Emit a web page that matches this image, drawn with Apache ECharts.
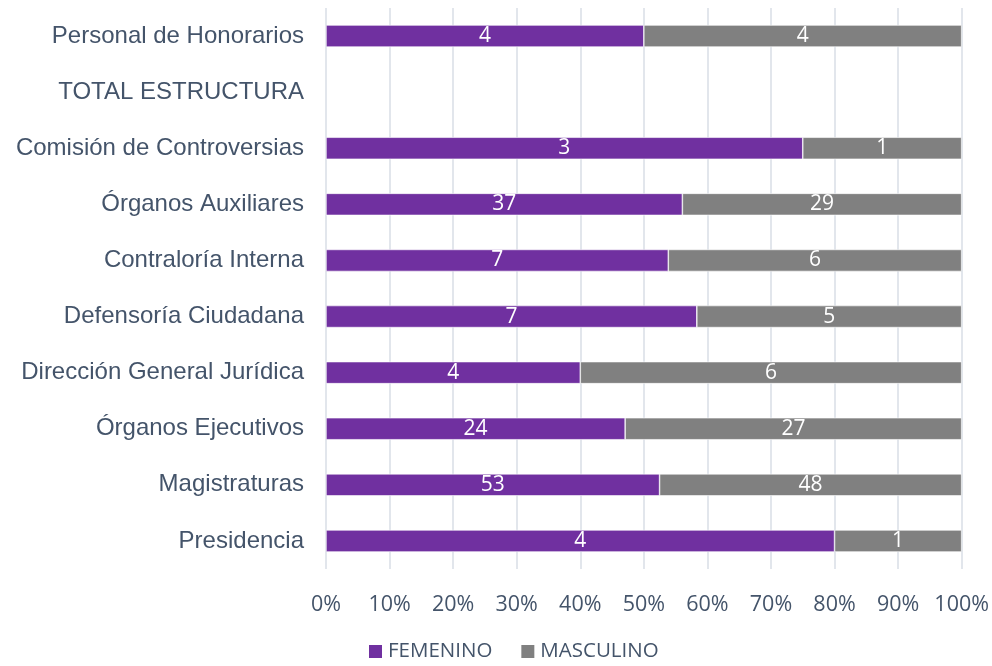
<!DOCTYPE html>
<html>
<head>
<meta charset="utf-8">
<script src="https://cdn.jsdelivr.net/npm/echarts@6/dist/echarts.min.js"></script>
<style>
html, body { margin: 0; padding: 0; background: #fff; }
#chart { width: 992px; height: 666px; }
</style>
</head>
<body>
<div id="chart"></div>
<script>
// categorias de abajo hacia arriba
var categories = ['Presidencia', 'Magistraturas', 'Órganos Ejecutivos', 'Dirección General Jurídica',
    'Defensoría Ciudadana', 'Contraloría Interna', 'Órganos Auxiliares', 'Comisión de Controversias',
    'TOTAL ESTRUCTURA', 'Personal de Honorarios'];
var femenino = [4, 53, 24, 4, 7, 7, 37, 3, null, 4];
var masculino = [1, 48, 27, 6, 5, 6, 29, 1, null, 4];
var tickLabels = ['0%', '10%', '20%', '30%', '40%', '50%', '60%', '70%', '80%', '90%', '100%'];

function share(a, b) {
    return a.map(function (v, i) {
        if (v == null || b[i] == null) return null;
        return v / (v + b[i]) * 100;
    });
}

var pctF = share(femenino, masculino);
var pctM = share(masculino, femenino);

var chartDom = document.getElementById('chart');
var myChart = echarts.init(chartDom);
var textColor = '#44546A';

function barSeries(name, color, pct, raw) {
    return {
        name: name,
        type: 'bar',
        stack: 'total',
        barWidth: 22,
        itemStyle: { color: color, borderColor: '#ffffff', borderWidth: 0.6 },
        label: {
            show: true,
            position: 'inside',
            color: '#ffffff',
            fontFamily: 'Open Sans',
            fontSize: 21,
            formatter: function (p) { return raw[p.dataIndex]; }
        },
        data: pct
    };
}

var option = {
    animation: false,
    grid: { left: 326, right: 30, top: 8, bottom: 97, containLabel: false },
    legend: {
        top: 641,
        left: 367,
        itemWidth: 15,
        itemHeight: 15,
        itemGap: 27,
        icon: 'rect',
        padding: 0,
        textStyle: { color: textColor, fontFamily: 'Open Sans', fontSize: 20.5 },
        data: ['FEMENINO', 'MASCULINO']
    },
    xAxis: {
        type: 'value',
        min: 0,
        max: 100,
        interval: 10,
        axisLine: { show: false },
        axisTick: { show: false },
        splitLine: { show: true, lineStyle: { color: '#D9DEE6', width: 1.5 } },
        axisLabel: {
            color: textColor,
            fontFamily: 'Open Sans',
            fontSize: 21.5,
            margin: 25,
            formatter: function (v) { return tickLabels[Math.round(v / 10)]; }
        }
    },
    yAxis: {
        type: 'category',
        data: categories,
        axisLine: { show: false },
        axisTick: { show: false },
        axisLabel: {
            color: textColor,
            fontFamily: 'Liberation Sans',
            fontSize: 24,
            margin: 22
        }
    },
    series: [
        barSeries('FEMENINO', '#7030A0', pctF, femenino),
        barSeries('MASCULINO', '#808080', pctM, masculino)
    ]
};

option && myChart.setOption(option);
</script>
</body>
</html>
